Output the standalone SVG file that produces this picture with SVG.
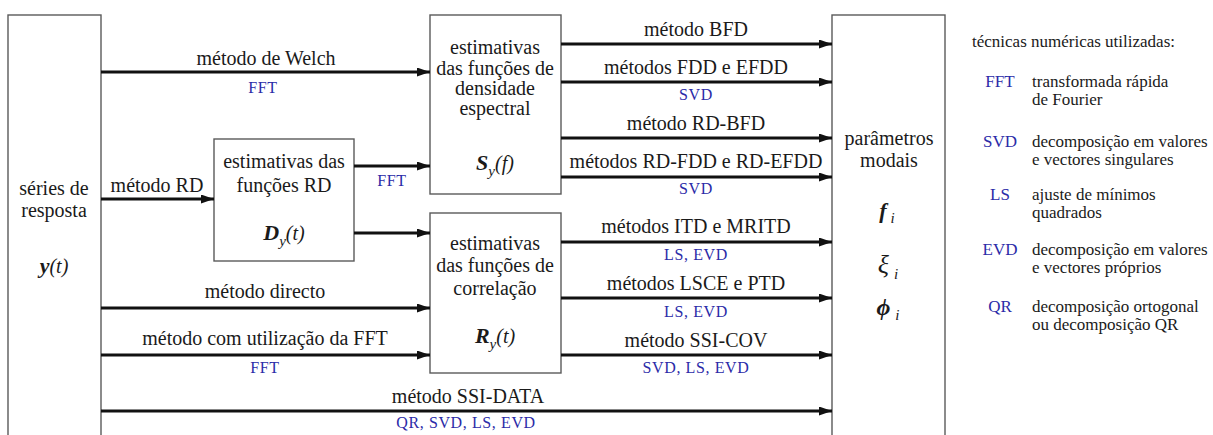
<svg xmlns="http://www.w3.org/2000/svg" width="1213" height="435" viewBox="0 0 1213 435" font-family="'Liberation Serif', 'Times New Roman', Times, 'DejaVu Serif', serif">
  <style>
    .lbl { font-size: 20px; fill: #1a1a1a; text-anchor: middle; }
    .tech { font-size: 16px; fill: #2b2ba8; text-anchor: middle; letter-spacing: 0.6px; }
    .box { fill: #ffffff; stroke: #5a5a5a; stroke-width: 1.4; }
    .sym { font-style: italic; font-weight: bold; font-size: 22px; }
    .it { font-style: italic; }
    .sub { font-style: italic; font-size: 15px; }
    .flow { stroke: #111; stroke-width: 3; fill: none; marker-end: url(#arrow); }
    .leg { font-size: 17px; fill: #1a1a1a; }
    .legk { font-size: 17px; fill: #2b2ba8; text-anchor: middle; }
  </style>
  <defs>
    <marker id="arrow" markerUnits="userSpaceOnUse" markerWidth="14" markerHeight="10" refX="13" refY="4.5" orient="auto">
      <path d="M0,0 L13,4.5 L0,9 z" fill="#111"/>
    </marker>
  </defs>

  <!-- input: response series -->
  <g id="series">
    <rect class="box" x="8" y="15" width="93" height="440"/>
    <text class="lbl" x="54" y="195">séries de</text>
    <text class="lbl" x="54" y="217">resposta</text>
    <text class="lbl" x="54" y="273"><tspan class="sym" font-size="21">y</tspan><tspan class="it">(t)</tspan></text>
  </g>

  <!-- RD function estimates -->
  <g id="rd-functions">
    <rect class="box" x="214" y="139" width="140" height="122"/>
    <text class="lbl" x="284" y="168">estimativas das</text>
    <text class="lbl" x="284" y="192">funções RD</text>
    <text class="lbl" x="284" y="240"><tspan class="sym">D</tspan><tspan class="sub" dy="6">y</tspan><tspan class="it" dy="-6">(t)</tspan></text>
  </g>

  <!-- spectral density estimates -->
  <g id="spectral">
    <rect class="box" x="430" y="15" width="131" height="179"/>
    <text class="lbl" x="495" y="54">estimativas</text>
    <text class="lbl" x="495" y="75">das funções de</text>
    <text class="lbl" x="495" y="95">densidade</text>
    <text class="lbl" x="495" y="115">espectral</text>
    <text class="lbl" x="495" y="170"><tspan class="sym">S</tspan><tspan class="sub" dy="6">y</tspan><tspan class="it" dy="-6">(f)</tspan></text>
  </g>

  <!-- correlation estimates -->
  <g id="correlation">
    <rect class="box" x="430" y="213" width="131" height="160"/>
    <text class="lbl" x="495" y="250">estimativas</text>
    <text class="lbl" x="495" y="272">das funções de</text>
    <text class="lbl" x="495" y="295">correlação</text>
    <text class="lbl" x="495" y="343"><tspan class="sym">R</tspan><tspan class="sub" dy="6">y</tspan><tspan class="it" dy="-6">(t)</tspan></text>
  </g>

  <!-- output: modal parameters -->
  <g id="modal">
    <rect class="box" x="832" y="15" width="113" height="440"/>
    <text class="lbl" x="889" y="145">parâmetros</text>
    <text class="lbl" x="889" y="167">modais</text>
    <text class="lbl" x="887" y="218"><tspan class="sym" font-size="24">f</tspan><tspan class="sub" dx="4" dy="5">i</tspan></text>
    <text class="lbl" x="888" y="273"><tspan class="it" font-size="26">ξ</tspan><tspan class="sub" dx="5" dy="6">i</tspan></text>
    <text class="lbl" x="888" y="315"><tspan class="it" font-size="24" font-weight="bold">ϕ</tspan><tspan class="sub" dx="5" dy="5">i</tspan></text>
  </g>

  <!-- connectors -->
  <g id="connectors">
    <line class="flow" x1="101" y1="72" x2="430" y2="72"/>
    <line class="flow" x1="101" y1="199" x2="214" y2="199"/>
    <line class="flow" x1="354" y1="166" x2="430" y2="166"/>
    <line class="flow" x1="354" y1="233" x2="430" y2="233"/>
    <line class="flow" x1="101" y1="308" x2="430" y2="308"/>
    <line class="flow" x1="101" y1="355" x2="430" y2="355"/>
    <line class="flow" x1="101" y1="411" x2="832" y2="411"/>
    <line class="flow" x1="561" y1="44" x2="832" y2="44"/>
    <line class="flow" x1="561" y1="82" x2="832" y2="82"/>
    <line class="flow" x1="561" y1="138" x2="832" y2="138"/>
    <line class="flow" x1="561" y1="177" x2="832" y2="177"/>
    <line class="flow" x1="561" y1="242" x2="832" y2="242"/>
    <line class="flow" x1="561" y1="298" x2="832" y2="298"/>
    <line class="flow" x1="561" y1="355" x2="832" y2="355"/>
  </g>

  <!-- connector labels -->
  <g id="connector-labels">
    <text class="lbl" x="266" y="65">método de Welch</text>
    <text class="tech" x="263" y="93">FFT</text>
    <text class="lbl" x="157" y="192">método RD</text>
    <text class="tech" x="392" y="186">FFT</text>
    <text class="lbl" x="265" y="298">método directo</text>
    <text class="lbl" x="265" y="345">método com utilização da FFT</text>
    <text class="tech" x="265" y="373">FFT</text>
    <text class="lbl" x="468" y="403">método SSI-DATA</text>
    <text class="tech" x="466" y="428">QR, SVD, LS, EVD</text>

    <text class="lbl" x="696" y="36">método BFD</text>
    <text class="lbl" x="696" y="74">métodos FDD e EFDD</text>
    <text class="tech" x="696" y="100">SVD</text>
    <text class="lbl" x="696" y="130">método RD-BFD</text>
    <text class="lbl" x="696" y="168">métodos RD-FDD e RD-EFDD</text>
    <text class="tech" x="696" y="194">SVD</text>
    <text class="lbl" x="696" y="233">métodos ITD e MRITD</text>
    <text class="tech" x="696" y="260">LS, EVD</text>
    <text class="lbl" x="696" y="290">métodos LSCE e PTD</text>
    <text class="tech" x="696" y="317">LS, EVD</text>
    <text class="lbl" x="696" y="347">método SSI-COV</text>
    <text class="tech" x="696" y="373">SVD, LS, EVD</text>
  </g>

  <!-- legend of numerical techniques -->
  <g id="legend">
    <text class="leg" x="972" y="47">técnicas numéricas utilizadas:</text>
    <text class="legk" x="1000" y="87">FFT</text>
    <text class="leg" x="1032" y="87">transformada rápida</text>
    <text class="leg" x="1032" y="105">de Fourier</text>
    <text class="legk" x="1000" y="147">SVD</text>
    <text class="leg" x="1032" y="147">decomposição em valores</text>
    <text class="leg" x="1032" y="165">e vectores singulares</text>
    <text class="legk" x="1000" y="200">LS</text>
    <text class="leg" x="1032" y="200">ajuste de mínimos</text>
    <text class="leg" x="1032" y="218">quadrados</text>
    <text class="legk" x="1000" y="255">EVD</text>
    <text class="leg" x="1032" y="255">decomposição em valores</text>
    <text class="leg" x="1032" y="273">e vectores próprios</text>
    <text class="legk" x="1000" y="312">QR</text>
    <text class="leg" x="1032" y="312">decomposição ortogonal</text>
    <text class="leg" x="1032" y="330">ou decomposição QR</text>
  </g>
</svg>
